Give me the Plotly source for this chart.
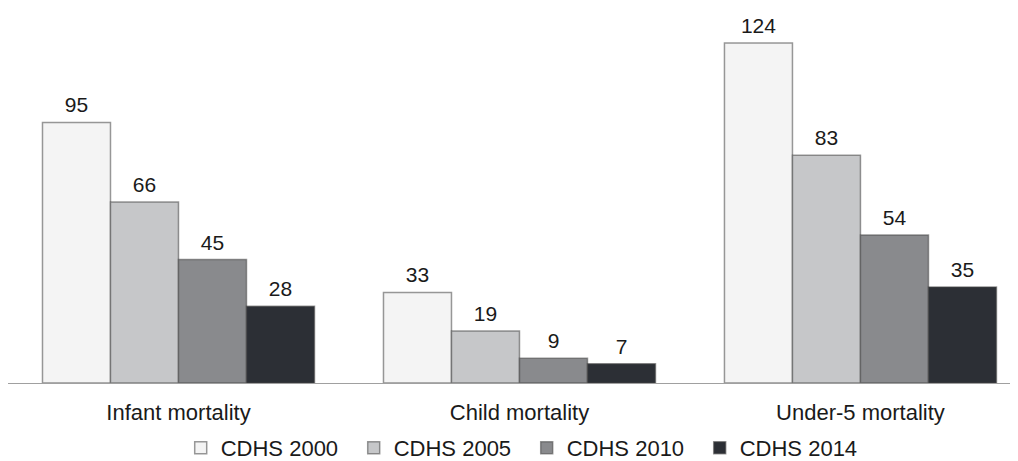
import plotly.graph_objects as go

categories = ["Infant mortality", "Child mortality", "Under-5 mortality"]
series_names = ["CDHS 2000", "CDHS 2005", "CDHS 2010", "CDHS 2014"]
vals_2000 = [95, 33, 124]
vals_2005 = [66, 19, 83]
vals_2010 = [45, 9, 54]
vals_2014 = [28, 7, 35]
series_values = [vals_2000, vals_2005, vals_2010, vals_2014]
colors = ["#f4f4f4", "#c6c7c9", "#898a8d", "#2c2f35"]

FONT = "Liberation Sans, Arial, sans-serif"
TXT = "#1a1a1a"

fig = go.Figure()
for name, vals, col in zip(series_names, series_values, colors):
    fig.add_trace(go.Bar(
        name=name, x=categories, y=vals,
        marker=dict(color=col, line=dict(color="rgba(70,70,70,0.55)", width=1.5)),
        hoverinfo="skip",
    ))
for name, vals in zip(series_names, series_values):
    fig.add_trace(go.Scatter(
        name=name, x=categories, y=vals, mode="markers+text",
        marker=dict(size=6, opacity=0),
        text=[str(v) for v in vals], textposition="top center",
        textfont=dict(family=FONT, size=21, color=TXT),
        showlegend=False, cliponaxis=False, hoverinfo="skip",
    ))

fig.update_layout(
    width=1010, height=453,
    margin=dict(l=0, r=0, t=2, b=78, autoexpand=False),
    paper_bgcolor="white", plot_bgcolor="white",
    barmode="group", bargap=0.2023, bargroupgap=0,
    scattermode="group", scattergap=0.2023,
    font=dict(family=FONT, size=21, color=TXT),
    showlegend=True,
    legend=dict(orientation="h", x=0.171, xanchor="left", y=-0.174, yanchor="middle",
                entrywidth=128, entrywidthmode="pixels",
                font=dict(family=FONT, size=22, color=TXT),
                itemclick=False, itemdoubleclick=False),
    xaxis=dict(range=[-0.5, 2.462], showline=True, linecolor="#a0a0a0", linewidth=1,
               ticks="", ticklabelstandoff=10, showgrid=False, zeroline=False,
               tickfont=dict(family=FONT, size=22, color=TXT)),
    yaxis=dict(range=[0, 136], visible=False, showgrid=False, zeroline=False),
)

fig.write_html("out.html")
